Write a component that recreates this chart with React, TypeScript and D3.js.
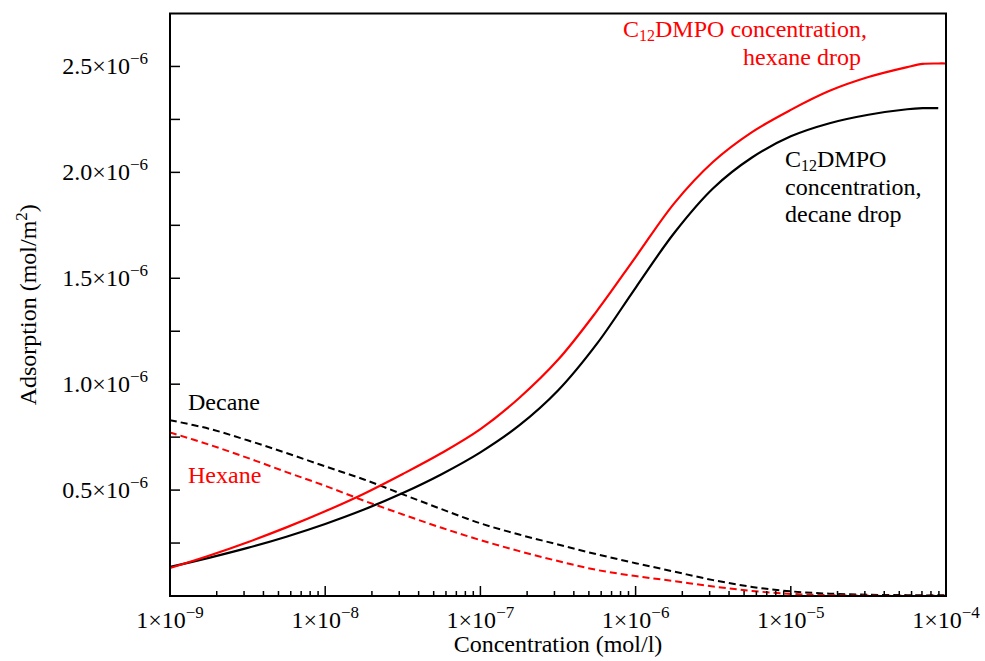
import React from "react";
import * as d3 from "d3";

// log10 of concentration (mol/l) at which curve values are read
const logConc = [-9, -8.75, -8.5, -8.25, -8, -7.75, -7.5, -7.25, -7, -6.75, -6.5, -6.25, -6, -5.75, -5.5, -5.25, -5, -4.75, -4.5, -4.25, -4.15, -4.05, -4];

// adsorption in units of 1e-6 mol/m2
const hexaneDropSurf = [0.132, 0.190, 0.254, 0.324, 0.400, 0.483, 0.576, 0.675, 0.788, 0.935, 1.115, 1.345, 1.600, 1.855, 2.050, 2.190, 2.295, 2.385, 2.450, 2.497, 2.512, 2.514, 2.514];
const decaneDropSurf = [0.137, 0.180, 0.227, 0.280, 0.340, 0.408, 0.486, 0.575, 0.678, 0.805, 0.970, 1.190, 1.455, 1.715, 1.925, 2.070, 2.170, 2.232, 2.272, 2.298, 2.303, 2.303, 2.303];
const decaneOil = [0.830, 0.790, 0.735, 0.675, 0.612, 0.550, 0.480, 0.410, 0.343, 0.290, 0.243, 0.197, 0.155, 0.115, 0.075, 0.043, 0.022, 0.011, 0.006, 0.004, 0.003, 0.003, 0.003];
const hexaneOil = [0.772, 0.715, 0.652, 0.585, 0.520, 0.450, 0.385, 0.322, 0.264, 0.212, 0.165, 0.123, 0.094, 0.070, 0.045, 0.024, 0.010, 0.004, 0.002, 0.001, 0.001, 0.001, 0.001];

const xMajorExp = [-9, -8, -7, -6, -5, -4];
const yTicks = [0.25, 0.5, 0.75, 1.0, 1.25, 1.5, 1.75, 2.0, 2.25, 2.5];
const yLabelTicks = [0.5, 1.0, 1.5, 2.0, 2.5];

const W = 985, H = 661;
const L = 170, R = 946, T = 13.5, B = 596;
const FONT = "'Liberation Serif', 'Times New Roman', serif";
const RED = "#ff0000";
const FS = 24;
const SUP = 17;

export default function App() {
  const x = d3.scaleLog().domain([1e-9, 1e-4]).range([L, R]);
  const y = d3.scaleLinear().domain([0, 2.75]).range([B, T]);

  const mk = (vals: number[], endLog = -4) => {
    const pts: [number, number][] = [];
    logConc.forEach((lc, i) => {
      if (lc <= endLog + 1e-9) pts.push([x(Math.pow(10, lc)), y(vals[i])]);
    });
    return d3.line().curve(d3.curveCatmullRom.alpha(0.5))(pts) || "";
  };

  const minor: number[] = [];
  for (let e = -9; e < -4; e++) for (let k = 2; k <= 9; k++) minor.push(k * Math.pow(10, e));

  return (
    <svg width={W} height={H} style={{ position: "absolute", left: 0, top: 0, background: "#fff" }} fontFamily={FONT}>
      <defs>
        <clipPath id="clip">
          <rect x={L} y={T} width={R - L} height={B - T} />
        </clipPath>
      </defs>
      <rect x={0} y={0} width={W} height={H} fill="#fff" />
      <g clipPath="url(#clip)">
        <path d={mk(decaneOil)} fill="none" stroke="#000" strokeWidth={2} strokeDasharray="7,4" />
        <path d={mk(hexaneOil)} fill="none" stroke={RED} strokeWidth={2} strokeDasharray="7,4" />
        <path d={mk(decaneDropSurf, -4.05)} fill="none" stroke="#000" strokeWidth={2.2} />
        <path d={mk(hexaneDropSurf)} fill="none" stroke={RED} strokeWidth={2.2} />
      </g>
      {minor.map((v, i) => (
        <line key={"m" + i} x1={x(v)} x2={x(v)} y1={B} y2={B - 5} stroke="#000" strokeWidth={1.5} />
      ))}
      {xMajorExp.map((e) => (
        <line key={"M" + e} x1={x(Math.pow(10, e))} x2={x(Math.pow(10, e))} y1={B} y2={B - 10} stroke="#000" strokeWidth={1.5} />
      ))}
      {yTicks.map((v) => (
        <line key={"y" + v} x1={L} x2={L + 10} y1={y(v)} y2={y(v)} stroke="#000" strokeWidth={1.5} />
      ))}
      <rect x={L} y={T} width={R - L} height={B - T} fill="none" stroke="#000" strokeWidth={2} />
      {xMajorExp.map((e) => (
        <text key={"xl" + e} x={x(Math.pow(10, e))} y={628} textAnchor="middle" fontSize={FS} fill="#000">
          1×10<tspan fontSize={SUP} dy={-10}>{"\u2212" + Math.abs(e)}</tspan>
        </text>
      ))}
      {yLabelTicks.map((v) => (
        <text key={"yl" + v} x={148} y={y(v) + 8} textAnchor="end" fontSize={FS} fill="#000">
          {v.toFixed(1)}×10<tspan fontSize={SUP} dy={-10}>{"\u22126"}</tspan>
        </text>
      ))}
      <text x={(L + R) / 2} y={652} textAnchor="middle" fontSize={FS} fill="#000">Concentration (mol/l)</text>
      <text transform={`translate(36,${(T + B) / 2}) rotate(-90)`} textAnchor="middle" fontSize={FS} fill="#000">
        Adsorption (mol/m<tspan fontSize={SUP} dy={-9}>2</tspan><tspan dy={9}>)</tspan>
      </text>
      <text x={867} y={37} textAnchor="end" fontSize={FS} fill={RED}>
        C<tspan fontSize={16} dy={4}>12</tspan><tspan dy={-4}>DMPO concentration,</tspan>
      </text>
      <text x={861} y={65} textAnchor="end" fontSize={FS} fill={RED}>hexane drop</text>
      <text x={785} y={167} fontSize={FS} fill="#000">
        C<tspan fontSize={16} dy={4}>12</tspan><tspan dy={-4}>DMPO</tspan>
      </text>
      <text x={785} y={195} fontSize={FS} fill="#000">concentration,</text>
      <text x={785} y={222} fontSize={FS} fill="#000">decane drop</text>
      <text x={188} y={410} fontSize={FS} fill="#000">Decane</text>
      <text x={188} y={483} fontSize={FS} fill={RED}>Hexane</text>
    </svg>
  );
}
